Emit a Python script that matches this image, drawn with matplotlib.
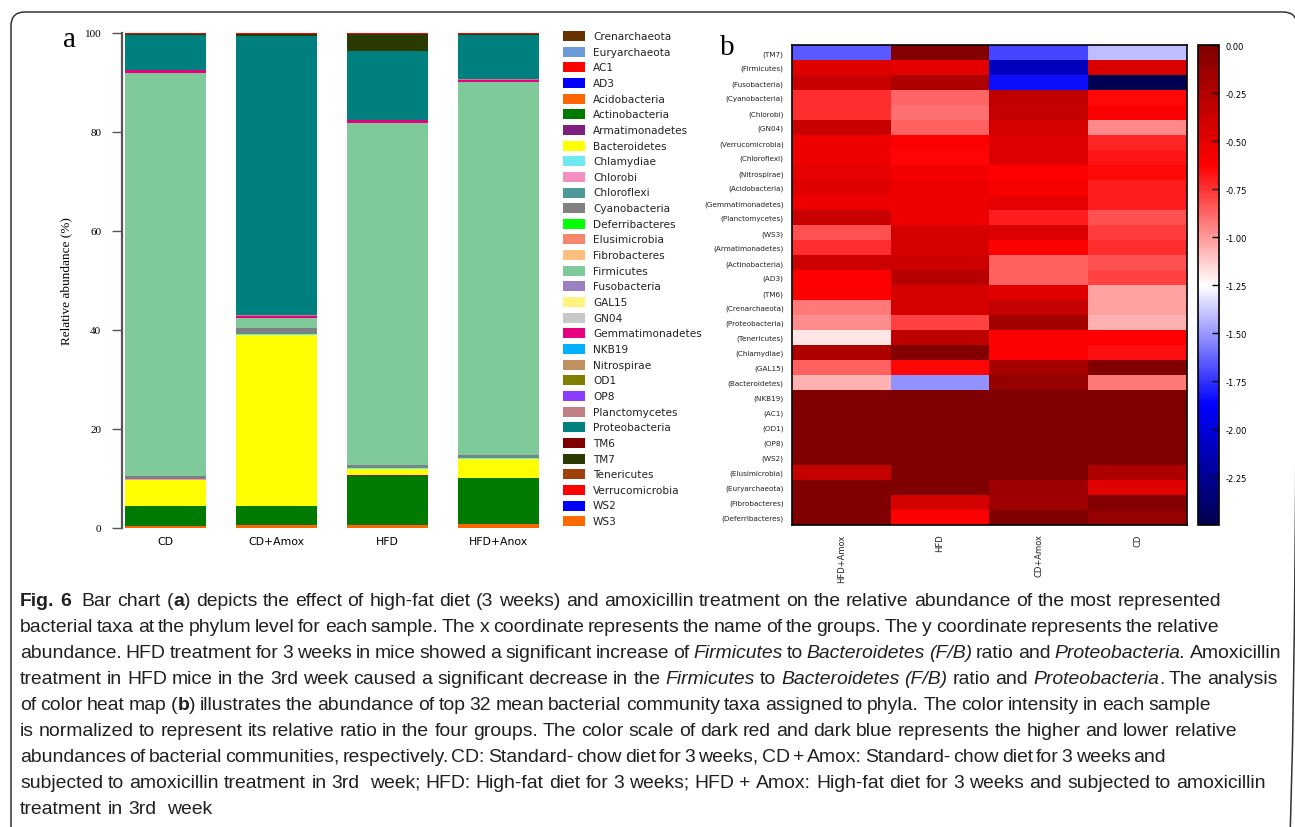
import numpy as np
import matplotlib
matplotlib.use("Agg")
import matplotlib.pyplot as plt
from matplotlib.patches import Rectangle, FancyBboxPatch

W, H = 1295, 828

# ---- panel a: stacked relative abundance (%) ----
taxa = ["Crenarchaeota", "Euryarchaeota", "AC1", "AD3", "Acidobacteria",
        "Actinobacteria", "Armatimonadetes", "Bacteroidetes", "Chlamydiae",
        "Chlorobi", "Chloroflexi", "Cyanobacteria", "Deferribacteres",
        "Elusimicrobia", "Fibrobacteres", "Firmicutes", "Fusobacteria", "GAL15",
        "GN04", "Gemmatimonadetes", "NKB19", "Nitrospirae", "OD1", "OP8",
        "Planctomycetes", "Proteobacteria", "TM6", "TM7", "Tenericutes",
        "Verrucomicrobia", "WS2", "WS3"]
taxa_colors = ["#663300", "#6A9BD8", "#FF0000", "#0000FF", "#FF6600",
               "#007A00", "#7F1F80", "#FFFF00", "#70E8F0", "#F490C0",
               "#4D9999", "#808080", "#00FF00", "#F4876B", "#FFBE80",
               "#80C99A", "#9B80C0", "#FFF380", "#C8C8C8", "#E6007E",
               "#00B0FF", "#C09060", "#808000", "#8B3DFF", "#BF7F85",
               "#007F7F", "#800000", "#2B3A00", "#A0400A", "#FF0000",
               "#0000FF", "#FF6A00"]
groups = ["CD", "CD+Amox", "HFD", "HFD+Anox"]
cd = [0, 0, 0, 0, 0.5, 3.9, 0.1, 5.2, 0.05, 0.05, 0.2, 0.6, 0, 0, 0, 81.3,
      0.05, 0, 0, 0.5, 0, 0, 0, 0, 0.1, 7.1, 0, 0.05, 0, 0.3, 0, 0]
cd_amox = [0, 0, 0, 0, 0.6, 3.8, 0.1, 34.5, 0.1, 0.1, 0.1, 1.2, 0, 0, 0, 2.0,
           0, 0, 0, 0.4, 0, 0, 0, 0, 0.1, 56.4, 0, 0.3, 0, 0.3, 0, 0]
hfd = [0, 0, 0, 0, 0.6, 10.0, 0.2, 1.2, 0.05, 0.05, 0.3, 0.3, 0, 0, 0, 69.2,
       0, 0, 0, 0.5, 0, 0, 0, 0, 0.1, 13.8, 0, 3.4, 0, 0.3, 0, 0]
hfd_amox = [0, 0, 0, 0, 0.8, 9.3, 0.1, 3.7, 0.2, 0.05, 0.1, 0.4, 0, 0, 0, 75.4,
            0, 0, 0, 0.5, 0, 0, 0, 0, 0.1, 9.0, 0, 0.05, 0, 0.3, 0, 0]

# ---- panel b: normalised heat map ----
heat_rows = ["TM7", "Firmicutes", "Fusobacteria", "Cyanobacteria", "Chlorobi",
             "GN04", "Verrucomicrobia", "Chloroflexi", "Nitrospirae",
             "Acidobacteria", "Gemmatimonadetes", "Planctomycetes", "WS3",
             "Armatimonadetes", "Actinobacteria", "AD3", "TM6", "Crenarchaeota",
             "Proteobacteria", "Tenericutes", "Chlamydiae", "GAL15",
             "Bacteroidetes", "NKB19", "AC1", "OD1", "OP8", "WS2",
             "Elusimicrobia", "Euryarchaeota", "Fibrobacteres", "Deferribacteres"]
heat_cols = ["HFD+Amox", "HFD", "CD+Amox", "CD"]
heat_hfd_amox = [-1.66, -0.47, -0.37, -0.74, -0.74, -0.37, -0.55, -0.55, -0.51,
                 -0.48, -0.55, -0.37, -0.83, -0.74, -0.39, -0.63, -0.62, -0.92,
                 -0.97, -1.19, -0.24, -0.86, -1.06, 0, 0, 0, 0, 0, -0.35, 0, 0, 0]
heat_hfd = [-0.02, -0.50, -0.24, -0.87, -0.90, -0.86, -0.62, -0.64, -0.58,
            -0.55, -0.55, -0.55, -0.42, -0.42, -0.39, -0.28, -0.42, -0.42,
            -0.79, -0.31, -0.02, -0.64, -1.52, 0, 0, 0, 0, 0, 0, 0, -0.42, -0.62]
heat_cd_amox = [-1.70, -2.10, -1.84, -0.31, -0.35, -0.42, -0.46, -0.46, -0.63,
                -0.60, -0.51, -0.70, -0.46, -0.62, -0.86, -0.86, -0.48, -0.35,
                -0.19, -0.62, -0.62, -0.20, -0.11, 0, 0, 0, 0, 0, 0, -0.15,
                -0.15, 0]
heat_cd = [-1.41, -0.44, -2.48, -0.65, -0.62, -0.96, -0.72, -0.68, -0.65, -0.70,
           -0.70, -0.83, -0.78, -0.74, -0.83, -0.79, -1.02, -1.02, -1.06, -0.63,
           -0.67, -0.01, -0.92, 0, 0, 0, 0, 0, -0.24, -0.48, -0.02, -0.12]
cbar_ticks = [0.0, -0.25, -0.5, -0.75, -1.0, -1.25, -1.5, -1.75, -2.0, -2.25]

caption_lines = [
    [("Fig. 6", "b"), ("  Bar chart (", "n"), ("a", "b"),
     (") depicts the effect of high-fat diet (3 weeks) and amoxicillin treatment on the relative abundance of the most represented", "n")],
    [("bacterial taxa at the phylum level for each sample. The x coordinate represents the name of the groups. The y coordinate represents the relative", "n")],
    [("abundance. HFD treatment for 3 weeks in mice showed a significant increase of ", "n"),
     ("Firmicutes", "i"), (" to ", "n"), ("Bacteroidetes (F/B)", "i"), (" ratio and ", "n"),
     ("Proteobacteria.", "i"), (" Amoxicillin", "n")],
    [("treatment in HFD mice in the 3rd week caused a significant decrease in the ", "n"),
     ("Firmicutes", "i"), (" to ", "n"), ("Bacteroidetes (F/B)", "i"), (" ratio and ", "n"),
     ("Proteobacteria", "i"), (". The analysis", "n")],
    [("of color heat map (", "n"), ("b", "b"),
     (") illustrates the abundance of top 32 mean bacterial community taxa assigned to phyla. The color intensity in each sample", "n")],
    [("is normalized to represent its relative ratio in the four groups. The color scale of dark red and dark blue represents the higher and lower relative", "n")],
    [("abundances of bacterial communities, respectively. CD: Standard- chow diet for 3 weeks, CD + Amox: Standard- chow diet for 3 weeks and", "n")],
    [("subjected to amoxicillin treatment in 3rd  week; HFD: High-fat diet for 3 weeks; HFD + Amox: High-fat diet for 3 weeks and subjected to amoxicillin", "n")],
    [("treatment in 3rd  week", "n")],
]
# right end (px) of each caption line as set in the reference
line_ends = [1221, 1219, 1281, 1278, 1211, 1237, 1166, 1266, None]

fig = plt.figure(figsize=(W / 100, H / 100), dpi=100)

# overlay in pixel coordinates for frame, legend and caption
ov = fig.add_axes([0, 0, 1, 1])
ov.set_xlim(0, W)
ov.set_ylim(H, 0)
ov.axis("off")
ov.add_patch(FancyBboxPatch((11, 13), 1286, 900,
                            boxstyle="round,pad=0,rounding_size=14",
                            fill=False, lw=1.1, ec="#333333", clip_on=False))

# ---- bar chart ----
ax = fig.add_axes([122 / W, 1 - 529 / H, (548 - 122) / W, 495 / H])
x = np.arange(len(groups))
abund = np.array([cd, cd_amox, hfd, hfd_amox]).T
bottom = np.zeros(len(groups))
for color, row in zip(taxa_colors, abund):
    ax.bar(x, row, bottom=bottom, width=0.73, color=color, linewidth=0,
           clip_on=False)
    bottom += row
ax.set_xlim(-0.39, 3.45)
ax.set_ylim(0, 100)
for side in ["top", "right", "bottom"]:
    ax.spines[side].set_visible(False)
ax.spines["left"].set_bounds(0, 100)
ax.spines["left"].set_color("#555555")
ax.spines["left"].set_linewidth(1.6)
ax.set_yticks([0, 20, 40, 60, 80, 100])
ax.tick_params(axis="y", length=7, width=1, color="#555555", pad=8,
               labelsize=8, labelfontfamily="Liberation Serif")
ax.set_xticks(x)
ax.set_xticklabels(groups)
ax.tick_params(axis="x", length=0, pad=6, labelsize=7.8)
ax.set_ylabel("Relative abundance (%)", fontsize=9.5, family="Liberation Serif")
ax.yaxis.set_label_coords(-0.116, 0.5)

ov.text(63, 47, "a", fontsize=21, family="Liberation Serif", va="baseline")
ov.text(720, 55, "b", fontsize=21, family="Liberation Serif", va="baseline")

# legend
for i, (name, color) in enumerate(zip(taxa, taxa_colors)):
    yc = 37 + i * 15.65
    ov.add_patch(Rectangle((563, yc - 5), 22, 10, color=color, lw=0))
    ov.text(593, yc, name, va="center", ha="left", fontsize=7.6,
            color="#222222")

# ---- heat map ----
heat = np.array([heat_hfd_amox, heat_hfd, heat_cd_amox, heat_cd]).T
hm = fig.add_axes([792 / W, 1 - 526 / H, 395 / W, 480 / H])
im = hm.imshow(heat, cmap="seismic", vmin=-2.5, vmax=0, aspect="auto",
               interpolation="nearest")
hm.set_yticks(range(len(heat_rows)))
hm.set_yticklabels([f"({r})" for r in heat_rows], fontsize=5.2,
                   family=["Liberation Sans Narrow", "DejaVu Sans"])
hm.set_xticks(range(len(heat_cols)))
hm.set_xticklabels(heat_cols, rotation=90, fontsize=6)
hm.tick_params(length=0, pad=6, colors="#222222")
for s in hm.spines.values():
    s.set_linewidth(1.2)

cax = fig.add_axes([1198 / W, 1 - 526 / H, 21 / W, 480 / H])
cb = fig.colorbar(im, cax=cax, ticks=cbar_ticks, format="%.2f")
cax.tick_params(direction="in", length=5, width=1, labelsize=6, pad=5)
cb.outline.set_linewidth(1.2)

# ---- caption ----
renderer = fig.canvas.get_renderer()
cap_font = "Liberation Sans"
probe = ov.text(0, 0, "", family=cap_font)


def measure(s, size, style):
    probe.set_text(s)
    probe.set_fontsize(size)
    probe.set_fontweight("bold" if style == "b" else "normal")
    probe.set_fontstyle("italic" if style == "i" else "normal")
    return probe.get_window_extent(renderer).width


def layout(segs, size):
    sp = measure("n n", size, "n") - measure("nn", size, "n")
    out, xpos, gaps = [], 0.0, 0
    for text, style in segs:
        for k, part in enumerate(text.split(" ")):
            if k > 0:
                xpos += sp
                gaps += 1
            if part:
                out.append((xpos, gaps, part, style))
                xpos += measure(part, size, style)
    return out, xpos, gaps


_, w0, _ = layout(caption_lines[0], 10)
cap_size = 10 * 1201 / w0
placed = []
for segs, end in zip(caption_lines, line_ends):
    words, width, gaps = layout(segs, cap_size)
    extra = 0.0 if end is None else (end - 20 - width) / gaps
    placed.append([(xo + g * extra, word, style) for xo, g, word, style in words])
probe.set_text("")

for k, words in enumerate(placed):
    yb = 601 + 26 * k + 5
    for xo, word, style in words:
        ov.text(20 + xo, yb, word, family=cap_font, fontsize=cap_size,
                fontweight="bold" if style == "b" else "normal",
                fontstyle="italic" if style == "i" else "normal",
                va="baseline", ha="left", color="#231F20")

fig.savefig("out.png", dpi=100)
